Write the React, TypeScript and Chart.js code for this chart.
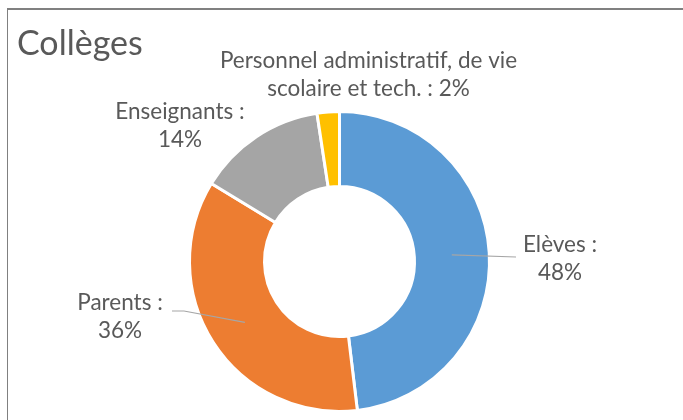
import React, { useEffect, useRef } from "react";
import { Chart, registerables } from "chart.js";

Chart.register(...registerables);

const title = "Collèges";
const categories = [
  "Elèves",
  "Parents",
  "Enseignants",
  "Personnel administratif, de vie scolaire et tech.",
];
// shares (labels show them rounded)
const values = [48.1, 35.6, 13.9, 2.4];
const colors = ["#5B9BD5", "#ED7D31", "#A5A5A5", "#FFC000"];

// label placement (offsets from the doughnut centre), wrap width, leader line bends
const labelStyles = [
  { dx: 220.5, dy: -10, wrap: 95, leader: [[176.5, -4.5]] },
  { dx: -219.5, dy: 48.5, wrap: 95, leader: [[-155.5, 49.5], [-167.5, 49.5]] },
  { dx: -159.5, dy: -142.5, wrap: 140, leader: null },
  { dx: 29, dy: -194, wrap: 330, leader: null },
];

const FONT = "Lato, 'Open Sans', sans-serif";
const TEXT = "#595959";

function wrapText(ctx: CanvasRenderingContext2D, text: string, maxW: number) {
  const words = text.split(" ");
  const lines: string[] = [];
  let cur = "";
  for (const w of words) {
    const test = cur ? cur + " " + w : w;
    if (cur && ctx.measureText(test).width > maxW) {
      lines.push(cur);
      cur = w;
    } else cur = test;
  }
  if (cur) lines.push(cur);
  return lines;
}

const labelPlugin = {
  id: "labelPlugin",
  afterDraw(chart: any) {
    const ctx: CanvasRenderingContext2D = chart.ctx;
    const meta = chart.getDatasetMeta(0);
    ctx.save();
    // frame
    ctx.fillStyle = "#808080";
    ctx.fillRect(7, 8, chart.width - 7, 2);
    ctx.fillRect(7, 8, 1, chart.height - 8);
    // title
    ctx.fillStyle = TEXT;
    ctx.font = `34px ${FONT}`;
    ctx.textAlign = "left";
    ctx.textBaseline = "alphabetic";
    ctx.fillText(title, 17, 55);

    meta.data.forEach((arc: any, i: number) => {
      const p = arc.getProps(["x", "y", "startAngle", "endAngle", "innerRadius", "outerRadius"], true);
      const st = labelStyles[i];
      const mid = (p.startAngle + p.endAngle) / 2;
      const r = (p.innerRadius + p.outerRadius) / 2;
      if (st.leader) {
        ctx.strokeStyle = "#A6A6A6";
        ctx.lineWidth = 1.2;
        ctx.beginPath();
        ctx.moveTo(p.x + Math.cos(mid) * r, p.y + Math.sin(mid) * r);
        for (const [lx, ly] of st.leader) ctx.lineTo(p.x + lx, p.y + ly);
        ctx.stroke();
      }
      ctx.fillStyle = TEXT;
      ctx.font = `22.5px ${FONT}`;
      ctx.textAlign = "center";
      const text = `${categories[i]} : ${Math.round(values[i])}%`;
      const lines = wrapText(ctx, text, st.wrap);
      lines.forEach((ln, k) => {
        ctx.fillText(ln, p.x + st.dx, p.y + st.dy + k * 28);
      });
    });
    ctx.restore();
  },
};

export default function App() {
  const ref = useRef<HTMLCanvasElement>(null);
  useEffect(() => {
    document.body.style.margin = "0";
    const chart = new Chart(ref.current!, {
      type: "doughnut",
      data: {
        labels: categories,
        datasets: [
          {
            data: values,
            backgroundColor: colors,
            borderColor: "#ffffff",
            borderWidth: 3,
          },
        ],
      },
      options: {
        responsive: false,
        animation: false,
        devicePixelRatio: 1,
        cutout: "50%",
        layout: { padding: { left: 188, right: 192, top: 110, bottom: 7 } },
        plugins: {
          legend: { display: false },
          tooltip: { enabled: false },
          title: { display: false },
        },
      },
      plugins: [labelPlugin],
    });
    return () => chart.destroy();
  }, []);
  return (
    <div style={{ position: "absolute", left: 0, top: 0, width: 683, height: 420, background: "#fff" }}>
      <canvas ref={ref} width={683} height={420} />
    </div>
  );
}
